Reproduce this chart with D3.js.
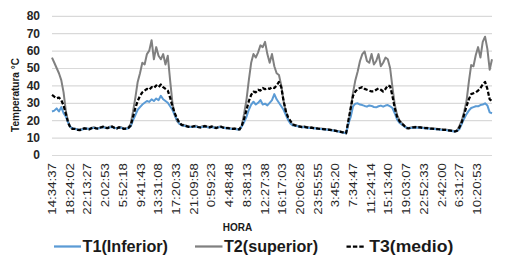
<!DOCTYPE html>
<html>
<head>
<meta charset="utf-8">
<script src="https://cdn.jsdelivr.net/npm/d3@7"></script>
<style>
  body { margin: 0; background: #fff; }
  svg { display: block; font-family: "Liberation Sans", Arial, sans-serif; }
</style>
</head>
<body>
<div id="chart"></div>
<script>
// one reading every half hour, starting 14:34:37
const t1Inferior = [
  25, 25.5, 26.8, 25, 27.5, 24, 22, 18.5, 16, 15.2,
  15, 14.7, 14.4, 14.6, 15.1, 15.2, 14.9, 15.2, 15.6, 15.4, 15.2, 15.6, 16, 15.7, 15.5, 15.9, 16.1, 15.6, 15.3, 15.7, 15.6, 15.1, 15, 15.4,
  16.5, 20, 23, 26, 27.5, 29, 30, 31, 30.5, 32, 31, 32.5, 31.5, 34, 32, 31, 30, 28, 26, 23, 20, 18, 17,
  16.8, 16.5, 16.3, 16.1, 16.2, 16.4, 16, 15.9, 16.1, 16.4, 16, 15.8, 16.1, 15.7, 15.6, 15.9, 16, 15.6, 15.4, 15.4, 15.1, 15, 14.9, 14.7, 14.6,
  16.5, 19, 22, 26, 29, 30.6, 29, 30, 31.6, 29, 29.5, 28.5, 30, 31.5, 35, 32, 30, 28, 26, 23, 20, 18, 17,
  16.8, 16.5, 16.2, 16, 16, 15.8, 15.5, 15.5, 15.3, 15.2, 15, 14.9, 14.8, 14.6, 14.5, 14.3, 14.1, 13.9, 13.6, 13.4, 13.1, 12.8, 12.5,
  18, 22, 28, 29.5, 29.7, 29, 28.7, 28.2, 27.8, 28.5, 28.2, 27.6, 27.4, 28, 28.4, 27.8, 28.4, 28.7, 28, 27, 24, 20.5, 18.5, 17.5, 16.5,
  15.8, 15.5, 15.5, 15.7, 15.8, 15.7, 15.7, 15.5, 15.4, 15.3, 15.1, 15, 14.9, 14.8, 14.7, 14.5, 14.4, 14.3, 14.1, 13.9, 13.7, 13.5, 13.8,
  15, 18, 21, 23.5, 25.5, 27, 27.5, 28, 28, 28.7, 29, 29.7, 28.5, 24.5, 24
];
const t2Superior = [
  56, 53, 50, 47, 43, 36, 25, 19, 16, 15,
  15, 14.8, 14.6, 15, 15.5, 15.2, 15, 15.6, 16, 15.5, 15.3, 16, 16.4, 15.8, 15.6, 16.3, 16.5, 15.7, 15.4, 16.1, 15.9, 15.2, 15.3, 15.8,
  18, 25, 33, 42, 47, 53, 52, 58, 60, 66, 55, 62, 57, 55, 58, 52, 57, 43, 30, 23, 19.5, 18, 17.5,
  17.2, 16.8, 16.4, 16.2, 16.6, 16.8, 16.3, 16, 16.5, 16.8, 16.4, 16.1, 16.5, 16, 15.7, 16.2, 16.4, 15.9, 15.6, 15.7, 15.4, 15.2, 15.3, 15, 14.9,
  17, 24, 32, 43, 53, 58, 56, 59, 63, 62, 65, 58, 53, 58, 51, 47, 46, 40, 31, 25, 20.5, 18.5, 17.5,
  17.2, 16.8, 16.5, 16.2, 16.4, 16.1, 15.8, 15.9, 15.6, 15.5, 15.3, 15.2, 15.1, 14.9, 14.8, 14.6, 14.4, 14.2, 13.9, 13.7, 13.4, 13, 12.7,
  18, 27, 36, 43, 48, 54, 58, 59.5, 54, 53, 58, 52, 54, 58, 51, 53, 56, 55, 50, 39, 29, 23, 20, 18.5, 17,
  15.7, 15.5, 15.8, 16.1, 16.2, 16, 16.1, 15.8, 15.7, 15.6, 15.4, 15.3, 15.2, 15.1, 15, 14.8, 14.7, 14.6, 14.4, 14.2, 14, 13.7, 14.2,
  17, 20, 25, 31, 42, 51.7, 51, 57.5, 62, 56, 65, 68, 61, 49, 55
];
const t3Medio = [
  34.5, 33.5, 32.6, 33, 31.5, 28.5, 23.5, 18.5, 15.5, 15,
  15, 14.5, 14.3, 14.8, 15.3, 15, 14.7, 15.4, 15.8, 15.3, 15.1, 15.8, 16.2, 15.6, 15.4, 16.1, 16.3, 15.5, 15.2, 15.9, 15.7, 15, 15.1, 15.6,
  17, 22, 27, 31, 34, 36, 37, 38, 37.5, 39, 38.5, 40, 39, 40.5, 39, 38, 37, 33, 28, 24, 21, 18.5, 17.3,
  17, 16.6, 16.2, 16, 16.4, 16.6, 16.1, 15.8, 16.3, 16.6, 16.2, 15.9, 16.3, 15.8, 15.5, 16, 16.2, 15.7, 15.4, 15.5, 15.2, 15, 15.1, 14.8, 14.7,
  17, 21, 26, 31, 34.5, 36.4, 36, 37.5, 37, 38.5, 37.8, 38.5, 38, 39, 38.5, 40, 42, 39, 31, 25, 21.5, 19.5, 17.5,
  17, 16.6, 16.3, 16, 16.2, 15.9, 15.6, 15.7, 15.4, 15.3, 15.1, 15, 14.9, 14.7, 14.6, 14.4, 14.2, 14, 13.7, 13.5, 13.2, 12.8, 12.5,
  20, 27, 34, 36.5, 38, 38.5, 39, 38, 37.5, 37, 36.5, 36.6, 37.5, 38.3, 37.5, 36.5, 38, 40, 39.5, 34, 27, 22, 19.5, 18, 17,
  15.5, 15.3, 15.6, 15.9, 16, 15.8, 15.9, 15.6, 15.5, 15.4, 15.2, 15.1, 15, 14.9, 14.8, 14.6, 14.5, 14.4, 14.2, 14, 13.8, 13.5, 14,
  16, 19, 23.5, 28, 32, 35, 35.5, 36, 37, 38.5, 40.5, 42, 38, 32, 31
];
const horaLabels = [
  '14:34:37', '18:24:02', '22:13:27', '2:02:53', '5:52:18', '9:41:43', '13:31:08',
  '17:20:33', '21:09:58', '0:59:23', '4:48:48', '8:38:13', '12:27:38', '16:17:03',
  '20:06:28', '23:55:55', '3:45:20', '7:34:47', '11:24:14', '15:13:40', '19:03:07',
  '22:52:33', '2:42:00', '6:31:27', '10:20:53'
];
const yTicks = [0, 10, 20, 30, 40, 50, 60, 70, 80];
const samplesPerHour = 2;
const labelStepHours = 3 + 49 / 60 + 25 / 3600;

const width = 505, height = 264;

const svg = d3.select('#chart').append('svg')
  .attr('width', width)
  .attr('height', height)
  .attr('viewBox', [0, 0, width, height]);

const x = d3.scaleLinear().domain([0, t1Inferior.length - 1]).range([52, 492]);
const y = d3.scaleLinear().domain([0, 80]).range([155, 15.8]);

// y axis + gridlines
const yAxis = svg.append('g')
  .attr('transform', 'translate(52,0)')
  .call(d3.axisLeft(y).tickValues(yTicks).tickSize(-440).tickPadding(12));
yAxis.select('.domain').remove();
yAxis.selectAll('line').attr('stroke', '#d9d9d9').attr('stroke-width', 1.2);
yAxis.selectAll('text')
  .attr('fill', '#262626')
  .style('font-size', '12px')
  .style('font-weight', 'bold');

// x axis labels (one every 3:49:25)
const xAxis = svg.append('g')
  .attr('transform', 'translate(0,155)')
  .call(d3.axisBottom(x)
    .tickValues(horaLabels.map((d, i) => i * labelStepHours * samplesPerHour))
    .tickFormat((d, i) => horaLabels[i])
    .tickSize(0));
xAxis.select('.domain').remove();
xAxis.selectAll('text')
  .attr('x', 0)
  .attr('y', 0)
  .attr('dy', '0.35em')
  .attr('text-anchor', 'end')
  .attr('transform', 'translate(0,8) rotate(-90) scale(1.33,1)')
  .attr('fill', '#262626')
  .style('font-size', '10px');

// axis titles
svg.append('text')
  .attr('transform', 'translate(18.5,95) rotate(-90)')
  .attr('text-anchor', 'middle')
  .attr('fill', '#1a1a1a')
  .style('font-size', '10px')
  .style('font-weight', 'bold')
  .text('Temperatura °C');

svg.append('text')
  .attr('x', 237.5)
  .attr('y', 231)
  .attr('text-anchor', 'middle')
  .attr('fill', '#1a1a1a')
  .style('font-size', '10px')
  .style('font-weight', 'bold')
  .text('HORA');

// series
const line = d3.line().x((d, i) => x(i)).y(d => y(d));

const series = [
  {name: 'T2(superior)', values: t2Superior, color: '#808080', dash: null, width: 2},
  {name: 'T1(Inferior)', values: t1Inferior, color: '#5b9bd5', dash: null, width: 2},
  {name: 'T3(medio)', values: t3Medio, color: '#000000', dash: '4,2', width: 2.25}
];

svg.append('g').selectAll('path')
  .data(series)
  .enter().append('path')
  .attr('fill', 'none')
  .attr('stroke', d => d.color)
  .attr('stroke-width', d => d.width)
  .attr('stroke-dasharray', d => d.dash)
  .attr('stroke-linejoin', 'round')
  .attr('d', d => line(d.values));

// legend
const legendItems = [
  {name: 'T1(Inferior)', color: '#5b9bd5', dash: null, x0: 54, x1: 81, tx: 82.5, tl: 85.5},
  {name: 'T2(superior)', color: '#808080', dash: null, x0: 195, x1: 222.5, tx: 224, tl: 94},
  {name: 'T3(medio)', color: '#000000', dash: '4.4,2', x0: 346.5, x1: 365, tx: 369.3, tl: 84}
];

const legend = svg.append('g');
legend.selectAll('line')
  .data(legendItems)
  .enter().append('line')
  .attr('x1', d => d.x0)
  .attr('x2', d => d.x1)
  .attr('y1', 246.5)
  .attr('y2', 246.5)
  .attr('stroke', d => d.color)
  .attr('stroke-width', 2.25)
  .attr('stroke-dasharray', d => d.dash);

legend.selectAll('text')
  .data(legendItems)
  .enter().append('text')
  .attr('x', d => d.tx)
  .attr('y', 252)
  .attr('textLength', d => d.tl)
  .attr('lengthAdjust', 'spacingAndGlyphs')
  .attr('fill', '#1a1a1a')
  .style('font-size', '16px')
  .style('font-weight', 'bold')
  .text(d => d.name);
</script>
</body>
</html>
